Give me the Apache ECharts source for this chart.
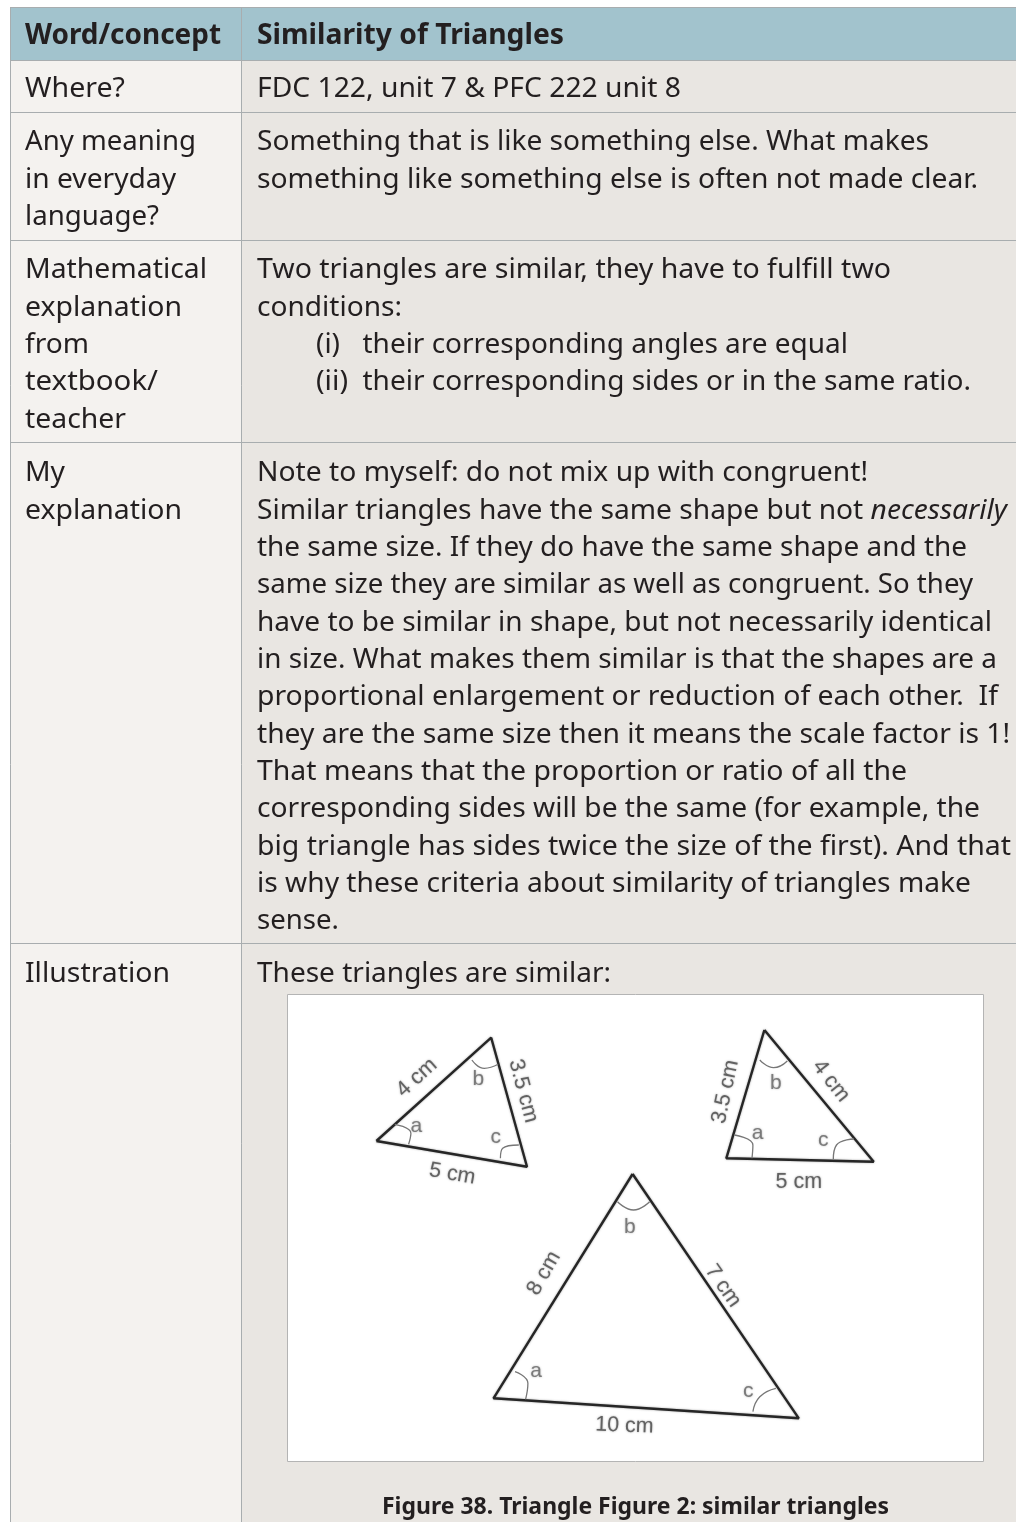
<!DOCTYPE html>
<html>
<head>
<meta charset="utf-8">
<style>html,body{margin:0;padding:0;background:#fff}#chart{width:1016px;height:1522px}</style>
<script src="https://cdn.jsdelivr.net/npm/echarts@6/dist/echarts.min.js"></script>
</head>
<body>
<div id="chart"></div>
<script>
// table text
const headCells = ['Word/concept', 'Similarity of Triangles'];
const rowLabels = [
    ['Where?'],
    ['Any meaning', 'in everyday', 'language?'],
    ['Mathematical', 'explanation', 'from', 'textbook/', 'teacher'],
    ['My', 'explanation'],
    ['Illustration']
];
const rowTexts = [
    ['FDC 122, unit 7 & PFC 222 unit 8'],
    ['Something that is like something else. What makes', 'something like something else is often not made clear.'],
    ['Two triangles are similar, they have to fulfill two', 'conditions:', '(i)', '(ii)'],
    ['Note to myself: do not mix up with congruent!',
        'Similar triangles have the same shape but not {i|necessarily}',
        'the same size. If they do have the same shape and the',
        'same size they are similar as well as congruent. So they',
        'have to be similar in shape, but not necessarily identical',
        'in size. What makes them similar is that the shapes are a',
        'proportional enlargement or reduction of each other.  If',
        'they are the same size then it means the scale factor is 1!',
        'That means that the proportion or ratio of all the',
        'corresponding sides will be the same (for example, the',
        'big triangle has sides twice the size of the first). And that',
        'is why these criteria about similarity of triangles make',
        'sense.'],
    ['These triangles are similar:']
];
const conditionTexts = ['their corresponding angles are equal', 'their corresponding sides or in the same ratio.'];
const figureCaption = 'Figure 38. Triangle Figure 2: similar triangles';

// right edge of each text line in the reference, same order as the text
const headEnds = [221, 564];
const labelEnds = [[125], [196, 176, 159], [207, 182, 89, 158, 126], [65, 182], [170]];
const textEnds = [
    [681],
    [929, 978],
    [891, 402, 340, 348],
    [868, 1007, 967, 973, 992, 997, 998, 1010, 907, 980, 1011, 971, 339],
    [611]
];
const conditionEnds = [848, 971];

// triangles (units: figure px, y up)
const triangleSmall1 = [[88.4, 320], [203.2, 423.3], [239, 294.3], [88.4, 320]];
const triangleSmall2 = [[476.4, 431], [438.3, 302.7], [585.7, 299.3], [476.4, 431]];
const triangleBig = [[344.6, 287], [205.5, 62.7], [510.8, 42.7], [344.6, 287]];
const angleArcs = [
    [[106.8, 336.7], [122.9, 327.7], [120.6, 316.7]],
    [[183.9, 401], [196.3, 392.7], [210.1, 396.7]],
    [[212.4, 302.7], [214.7, 312.7], [230.8, 316]],
    [[446.5, 326], [464.9, 316], [464, 302.7]],
    [[471.8, 401], [485.6, 393.3], [499.3, 400]],
    [[545.3, 301.7], [548.5, 316], [565.9, 322]],
    [[227, 89.3], [239.9, 77.7], [237.6, 61.7]],
    [[329.5, 259.3], [345.5, 251], [361.6, 259.3]],
    [[464.9, 49.3], [471.8, 64.3], [487.9, 72.7]]
];
// [x, y, text, rotate]
const sideLabels = [
    [128.8, 383.3, '4 cm', 42], [235.3, 370, '3.5 cm', -75], [164.2, 287, '5 cm', -10],
    [437.4, 369.3, '3.5 cm', 78], [543, 380, '4 cm', -52], [510.8, 279.3, '5 cm', 0],
    [256, 187.7, '8 cm', 60], [435, 175, '7 cm', -55], [336.4, 35.3, '10 cm', -2]
];
const angleLabels = [
    [128.4, 334.3, 'a'], [190.3, 381.7, 'b'], [207.8, 323.3, 'c'],
    [469.5, 327.7, 'a'], [487.9, 378, 'b'], [535.2, 321, 'c'],
    [248.2, 89.3, 'a'], [341.9, 233.3, 'b'], [460.3, 70, 'c']
];

const W = 1016, H = 1522;
const tableLeft = 10, colX = 241;
const rowLines = [7, 60, 112, 240, 442, 943];
const lineStep = 37.35;
const textColor = '#231f20', borderColor = '#a8adaf';
const fontFamily = '"Noto Sans"';
const bodyFont = '28px ' + fontFamily, headFont = 'bold 28px ' + fontFamily;
const measureCtx = document.createElement('canvas').getContext('2d');

const graphics = [];
function addRect(x, y, w, h, fill) {
    graphics.push({type: 'rect', shape: {x: x, y: y, width: w, height: h}, style: {fill: fill}, silent: true});
}
function addLine(x1, y1, x2, y2) {
    graphics.push({type: 'line', shape: {x1: x1, y1: y1, x2: x2, y2: y2}, style: {stroke: borderColor, lineWidth: 1}, silent: true});
}
function textWidth(str, font) {
    //{i|...} parts are set in italic
    let w = 0;
    str.split(/(\{i\|[^}]*\})/).forEach(function (part) {
        const italic = part.indexOf('{i|') === 0;
        measureCtx.font = (italic ? 'italic ' : '') + font;
        w += measureCtx.measureText(italic ? part.slice(3, -1) : part).width;
    });
    return w;
}
//right: the line is squeezed a little so that it ends where the reference does
function addText(str, x, y, font, right) {
    graphics.push({
        type: 'text', x: x, y: y, silent: true,
        scaleX: (right - x) / textWidth(str, font),
        style: {
            text: str, font: font, fill: textColor, align: 'left', verticalAlign: 'middle',
            rich: {i: {font: 'italic ' + font, fill: textColor}}
        }
    });
}

//backgrounds
addRect(tableLeft, rowLines[0], W - tableLeft, rowLines[1] - rowLines[0], '#a2c3cd');
addRect(tableLeft, rowLines[1], colX - tableLeft, H - rowLines[1], '#f4f2ef');
addRect(colX, rowLines[1], W - colX, H - rowLines[1], '#e9e6e2');
//white figure box
graphics.push({type: 'rect', shape: {x: 287.5, y: 994.5, width: 696, height: 467}, style: {fill: '#fff', stroke: '#b4b4b4', lineWidth: 1}, silent: true});
//borders
rowLines.forEach(function (y) { addLine(tableLeft, y + 0.5, W, y + 0.5); });
addLine(tableLeft + 0.5, rowLines[0], tableLeft + 0.5, H);
addLine(colX + 0.5, rowLines[0], colX + 0.5, H);

//header and rows
const textShift = 2.2;
addText(headCells[0], 25, 33.5 + textShift, headFont, headEnds[0]);
addText(headCells[1], 257, 33.5 + textShift, headFont, headEnds[1]);
const firstLineY = [87, 140, 268, 471, 972];
rowLabels.forEach(function (lines, r) {
    lines.forEach(function (s, i) { addText(s, 25, firstLineY[r] + i * lineStep + textShift, bodyFont, labelEnds[r][i]); });
});
rowTexts.forEach(function (lines, r) {
    lines.forEach(function (s, i) {
        const y = firstLineY[r] + i * lineStep + textShift;
        if (r === 2 && i > 1) {
            addText(s, 316, y, bodyFont, textEnds[r][i]);
            addText(conditionTexts[i - 2], 362.5, y, bodyFont, conditionEnds[i - 2]);
        } else {
            addText(s, 257, y, bodyFont, textEnds[r][i]);
        }
    });
});
addText(figureCaption, 382, 1507.5, 'bold 23px ' + fontFamily, 889);

const triangleLine = {color: '#262626', width: 2.4, shadowBlur: 2, shadowColor: 'rgba(60,60,60,0.5)'};
const series = [triangleSmall1, triangleSmall2, triangleBig].map(function (pts) {
    return {type: 'line', data: pts, showSymbol: false, silent: true, lineStyle: triangleLine};
});
angleArcs.forEach(function (pts) {
    series.push({type: 'line', data: pts, smooth: true, showSymbol: false, silent: true, lineStyle: {color: '#777', width: 1.3}});
});
series.push({
    type: 'scatter', symbolSize: 0, silent: true,
    data: sideLabels.map(function (d) {
        return {
            value: [d[0], d[1]],
            label: {
                show: true, position: 'inside', formatter: d[2], rotate: d[3], fontFamily: '"Liberation Sans"', fontSize: 21.5,
                color: '#4a4a4a', textShadowColor: 'rgba(90,90,90,0.7)', textShadowBlur: 2
            }
        };
    })
});
series.push({
    type: 'scatter', symbolSize: 0, silent: true,
    data: angleLabels.map(function (d) {
        return {
            value: [d[0], d[1]],
            label: {
                show: true, position: 'inside', formatter: d[2], fontFamily: '"Liberation Sans"', fontSize: 21,
                color: '#666', textShadowColor: 'rgba(110,110,110,0.7)', textShadowBlur: 2
            }
        };
    })
});

const chart = echarts.init(document.getElementById('chart'), null, {renderer: 'canvas'});
chart.setOption({
    animation: false,
    backgroundColor: '#fff',
    graphic: graphics,
    grid: {left: 288, top: 995, width: 695, height: 466},
    xAxis: {type: 'value', min: 0, max: 695, show: false},
    yAxis: {type: 'value', min: 0, max: 466, show: false},
    series: series
});
</script>
</body>
</html>
